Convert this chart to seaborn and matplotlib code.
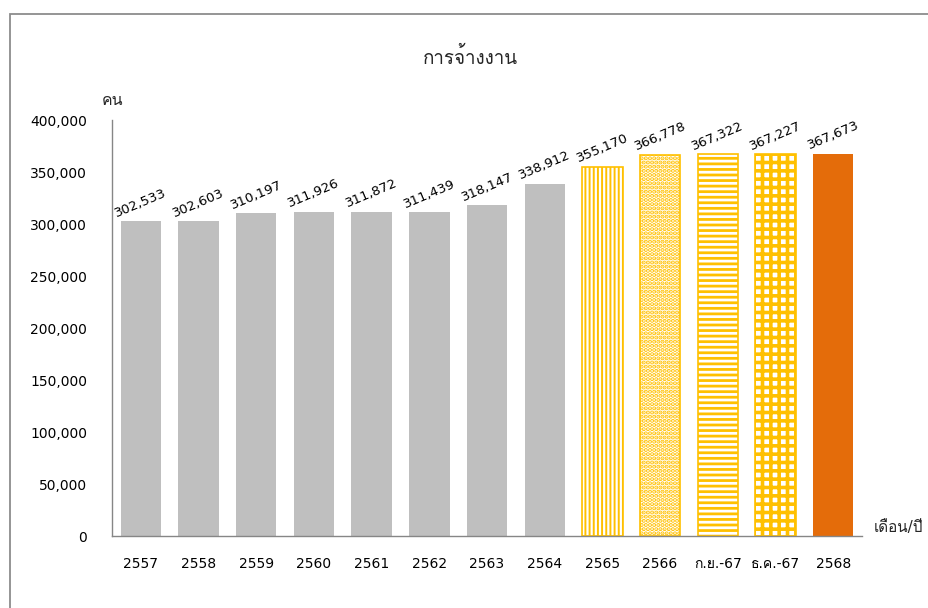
import matplotlib
matplotlib.use('Agg')
import matplotlib.pyplot as plt
import seaborn as sns
import pandas as pd
from matplotlib import font_manager
from matplotlib.patches import Rectangle

# data
periods = ['2557', '2558', '2559', '2560', '2561', '2562', '2563', '2564',
           '2565', '2566', 'ก.ย.-67', 'ธ.ค.-67', '2568']
employed = [302533, 302603, 310197, 311926, 311872, 311439, 318147, 338912,
            355170, 366778, 367322, 367227, 367673]

# bar styles
fills = ['#BFBFBF'] * 8 + ['white'] * 4 + ['#E46C0A']
edges = ['#BFBFBF'] * 8 + ['#FFC000'] * 4 + ['#E46C0A']
hatches = [''] * 8 + ['||||', '....', '---', '++', '']
hatch_lw = [0] * 8 + [1.4, 2.1, 2.0, 2.6, 0]


def find_thai_font():
    # look for any installed font that has Thai glyphs
    from fontTools.ttLib import TTFont
    for f in font_manager.fontManager.ttflist:
        try:
            cmap = TTFont(f.fname, fontNumber=0, lazy=True).getBestCmap()
        except Exception:
            continue
        if cmap and 0x0E01 in cmap and 0x0E49 in cmap:
            return f.name
    return None


sns.set_theme(style='white')
thai = find_thai_font()
plt.rcParams['font.family'] = ['DejaVu Sans', thai] if thai else ['DejaVu Sans']
plt.rcParams['hatch.linewidth'] = 1.5

df = pd.DataFrame({'period': periods, 'employed': employed})

fig = plt.figure(figsize=(9.29, 6.08), dpi=100)
ax = fig.add_axes([0.1206, 0.1184, 0.8073, 0.6842])

sns.barplot(data=df, x='period', y='employed', hue='period', palette=fills,
            legend=False, width=0.7, ax=ax, saturation=1)

for bar, fc, ec, h, hl in zip(ax.patches, fills, edges, hatches, hatch_lw):
    bar.set_facecolor(fc)
    bar.set_edgecolor(ec)
    bar.set_hatch(h)
    bar.set_linewidth(1.2 if h else 0)
    if h and hasattr(bar, 'set_hatch_linewidth'):
        bar.set_hatch_linewidth(hl)

for i, v in enumerate(employed):
    ax.annotate(f'{v:,}', (i, v), xytext=(0, 1), textcoords='offset points',
                ha='center', va='bottom', rotation=23, fontsize=9.5, color='black')

ax.set_ylim(0, 400000)
ax.set_xlim(-0.5, len(periods) - 0.5)
ax.set_yticks(range(0, 400001, 50000))
ax.yaxis.set_major_formatter(matplotlib.ticker.FuncFormatter(lambda v, p: f'{int(v):,}'))
ax.set_xticks(range(len(periods)))
ax.set_xticklabels(periods)
ax.set_xticks([i - 0.5 for i in range(len(periods) + 1)], minor=True)
ax.tick_params(axis='x', which='major', length=0, pad=15, labelsize=10, colors='black')
ax.tick_params(axis='x', which='minor', length=6, width=1, color='#868686', direction='out')
ax.tick_params(axis='y', length=5, width=1, color='#868686', direction='out', pad=13,
               labelsize=10, labelcolor='black')
ax.set_xlabel('')
ax.set_ylabel('')
for s in ['top', 'right']:
    ax.spines[s].set_visible(False)
for s in ['left', 'bottom']:
    ax.spines[s].set_color('#868686')
    ax.spines[s].set_linewidth(1)

fig.text(0.506, 0.906, 'การจ้างงาน', ha='center', va='center', fontsize=13.5)
fig.text(0.121, 0.835, 'คน', ha='center', va='center', fontsize=11.5)
fig.text(0.941, 0.133, 'เดือน/ปี', ha='left', va='center', fontsize=11)

# outer frame around the chart
fig.patches.append(Rectangle((10.5 / 929, -0.1), 1.2, (608 - 14.5) / 608 + 0.1,
                             transform=fig.transFigure, fill=False,
                             edgecolor='#8C8C8C', linewidth=1.3))

fig.savefig('out.png', dpi=100)
